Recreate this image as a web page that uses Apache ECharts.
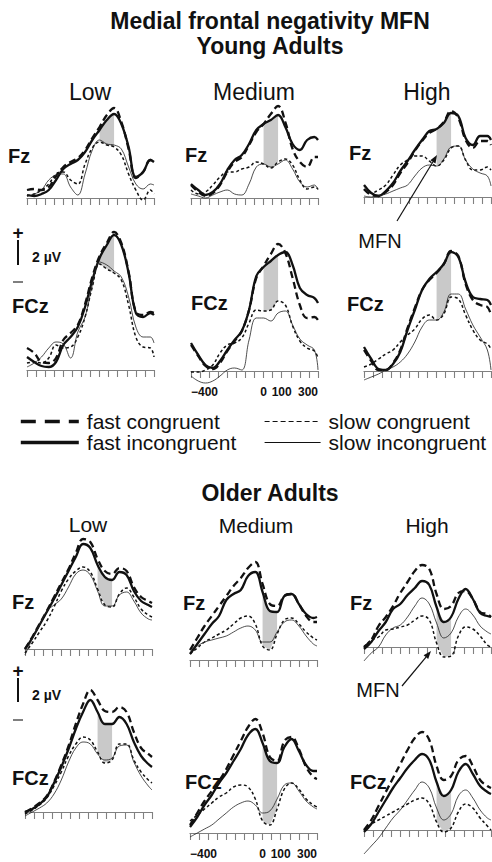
<!DOCTYPE html>
<html><head><meta charset="utf-8">
<script src="https://cdn.jsdelivr.net/npm/echarts@6/dist/echarts.min.js"></script>
<style>html,body{margin:0;padding:0;background:#fff}#c{width:492px;height:862px}</style>
</head><body><div id="c"></div>
<script>
// ---------- data (µV) ----------
const times = [-400,-360,-320,-280,-240,-200,-160,-120,-80,-40,0,40,80,120,160,200,240,280,300];
const conditions = ['fast congruent','fast incongruent','slow congruent','slow incongruent'];
const columns = ['Low','Medium','High'];
const sites = ['Fz','FCz'];
const groups = ['Young Adults','Older Adults'];
const xLabelsShown = [-400, 0, 100, 300];
const shadeIdx = [10, 11, 12]; // 0, 40, 80 ms

// Young adults, Fz
const yLowFzFC = [0.4,0.45,0.4,0.55,1.1,1.55,1.8,2.0,2.4,3.0,3.55,4.15,4.5,3.8,2.45,1.0,1.3,1.9,1.85];
const yLowFzFI = [0.15,0.1,0.2,0.4,0.9,1.45,1.7,1.9,2.3,2.9,3.4,3.9,4.2,3.7,2.55,1.05,1.3,1.9,1.8];
const yLowFzSC = [0.1,0.2,0.4,0.7,1.2,1.3,0.9,0.7,1.7,2.5,2.8,2.65,2.55,2.15,1.2,0.4,-0.1,0.4,0.2];
const yLowFzSI = [0.1,0.2,0.4,0.9,1.15,1.2,0.55,0.15,1.2,2.4,2.9,2.7,2.65,2.45,1.55,0.7,0.45,0.7,0.65];
const yMedFzFC = [0.65,0.3,0.1,0.25,0.65,1.3,1.8,2.05,2.65,3.3,3.7,4.2,4.6,3.8,2.45,1.8,1.55,2.05,2.05];
const yMedFzFI = [0.7,0.4,0.15,0.3,0.7,1.4,1.9,2.15,2.7,3.4,3.7,3.9,4.15,3.55,2.7,2.4,2.9,3.05,2.9];
const yMedFzSC = [0.4,0.2,0.3,0.65,1.05,1.3,1.3,1.45,1.55,1.8,1.7,1.5,1.8,1.95,1.65,0.9,0.45,0.55,0.45];
const yMedFzSI = [0.2,0.1,0.0,0.15,0.3,0.4,0.2,0.15,0.7,1.55,1.7,1.55,1.7,1.9,1.45,0.8,0.55,0.65,0.4];
const yHighFzFC = [0.4,0.1,0.05,0.25,0.6,1.2,1.7,2.3,2.8,3.2,3.4,3.75,4.3,3.95,2.85,2.45,2.8,2.8,2.6];
const yHighFzFI = [0.6,0.2,0.05,0.3,0.7,1.3,1.8,2.35,2.85,3.3,3.4,3.7,4.2,4.05,2.95,2.6,3.05,3.05,2.85];
const yHighFzSC = [0.35,0.2,0.35,0.6,1.1,1.6,1.85,2.05,2.05,1.8,1.55,1.85,2.45,2.55,1.85,1.35,1.35,1.5,1.35];
const yHighFzSI = [0.05,0.0,0.05,0.15,0.3,0.45,0.6,1.05,1.45,1.6,1.55,1.9,2.5,2.55,1.85,1.4,1.2,1.05,0.55];
// Young adults, FCz
const yLowFCzFC = [1.1,0.85,0.4,0.35,0.6,1.5,1.85,2.25,3.3,4.65,5.7,6.35,6.9,6.35,4.9,2.9,2.75,2.9,2.85];
const yLowFCzFI = [0.65,0.4,0.2,0.15,0.4,1.25,1.65,2.15,3.15,4.5,5.6,6.25,6.75,6.25,4.85,2.85,2.65,2.85,2.75];
const yLowFCzSC = [0.35,0.4,0.35,0.6,1.25,1.1,1.15,1.65,2.65,4.15,5.3,5.05,4.85,4.5,3.25,1.65,1.15,1.1,0.65];
const yLowFCzSI = [0.15,0.35,0.65,1.1,1.4,1.3,0.6,1.9,2.65,4.25,5.4,5.25,4.95,4.65,3.65,2.15,1.65,1.65,1.35];
const yMedFCzFC = [1.3,0.75,0.25,0.1,0.4,1.0,1.5,2.0,3.05,4.65,5.25,5.85,6.35,5.9,4.65,3.3,2.65,2.7,2.55];
const yMedFCzFI = [1.4,0.8,0.3,0.15,0.5,1.05,1.55,2.0,3.05,4.75,5.2,5.5,5.8,5.95,5.3,4.15,3.8,3.65,3.4];
const yMedFCzSC = [-0.05,-0.05,0.05,0.3,0.9,1.3,1.4,1.65,2.4,3.05,3.0,3.05,3.5,3.3,2.25,1.5,1.15,1.0,0.65];
const yMedFCzSI = [-0.25,-0.5,-0.6,-0.5,-0.25,0.05,0.15,0.05,1.55,2.65,2.65,2.5,2.9,3.0,2.3,1.6,1.3,1.05,0.05];
const yHighFCzFC = [1.05,0.5,0.05,0.05,0.4,1.05,2.15,3.15,4.05,4.55,4.9,5.35,6.0,5.75,4.35,3.55,3.3,3.2,2.8];
const yHighFCzFI = [1.2,0.6,0.1,0.05,0.35,0.95,2.05,3.05,4.05,4.6,4.95,5.35,5.95,5.7,4.45,3.7,3.6,3.55,3.3];
const yHighFCzSC = [0.2,0.35,0.6,0.85,1.05,1.45,1.8,2.1,2.6,2.8,2.55,2.85,3.7,3.6,2.8,2.05,1.55,1.35,1.1];
const yHighFCzSI = [-0.45,-0.3,-0.15,0.05,0.2,0.45,0.85,1.45,2.2,2.55,2.55,2.95,3.85,3.85,3.1,2.3,1.7,1.05,0.05];
// Older adults, Fz
const oLowFzFC = [0.0,0.6,1.25,1.9,2.6,3.3,4.0,4.8,5.5,5.35,4.5,3.9,3.75,4.05,3.9,3.1,2.6,2.4,2.3];
const oLowFzFI = [0.0,0.55,1.2,1.85,2.5,3.2,3.9,4.6,5.25,5.05,4.2,3.6,3.45,3.85,3.7,2.9,2.4,2.2,2.1];
const oLowFzSC = [-0.2,0.3,0.85,1.4,2.1,2.9,3.5,3.9,4.1,3.85,3.0,2.2,2.1,2.75,3.05,2.6,2.0,1.7,1.6];
const oLowFzSI = [-0.3,0.5,1.2,1.9,2.2,2.5,3.1,3.75,3.95,3.7,2.9,2.15,2.15,2.7,2.85,2.4,1.8,1.5,1.45];
const oMedFzFC = [0.5,1.1,1.7,2.2,2.7,3.2,3.7,4.1,4.6,4.9,3.8,2.8,2.7,3.2,3.3,2.8,2.2,1.9,1.9];
const oMedFzFI = [0.3,0.8,1.3,1.8,2.2,3.0,3.3,3.5,4.2,4.4,3.4,2.45,2.4,3.2,3.3,2.8,2.3,2.1,2.15];
const oMedFzSC = [0.3,0.6,0.9,1.1,1.3,1.5,1.8,2.1,2.2,1.8,0.7,0.5,1.3,2.0,2.1,1.8,1.4,1.1,1.0];
const oMedFzSI = [0.5,0.7,0.9,1.0,1.1,1.2,1.4,1.6,1.7,1.5,0.9,0.9,1.4,1.9,2.0,1.7,1.2,0.8,0.7];
const oHighFzFC = [0.0,0.35,1.05,1.5,2.05,2.7,3.25,3.8,4.1,3.9,2.65,1.9,2.05,2.7,2.8,2.4,1.75,1.65,1.5];
const oHighFzFI = [-0.1,0.25,0.8,1.25,1.9,2.15,2.6,2.95,3.3,3.1,2.0,1.25,1.5,2.4,2.9,2.4,1.7,1.55,1.5];
const oHighFzSC = [0.0,0.35,0.5,0.85,0.9,1.0,1.1,1.35,1.55,1.35,0.2,-0.5,-0.45,0.55,1.0,0.9,0.55,0.1,0.0];
const oHighFzSI = [-0.7,-0.3,0.0,0.6,0.95,1.1,1.5,2.05,2.45,2.15,1.2,0.45,0.7,1.5,1.9,1.6,1.05,0.75,0.65];
// Older adults, FCz
const oLowFCzFC = [0.0,0.2,0.45,0.8,1.5,2.35,3.3,4.4,5.4,6.1,5.6,5.05,5.0,5.25,5.0,4.0,3.2,2.9,2.75];
const oLowFCzFI = [0.0,0.15,0.4,0.75,1.45,2.25,3.15,4.15,5.0,5.6,5.0,4.4,4.4,4.75,4.4,3.5,2.8,2.4,2.25];
const oLowFCzSC = [-0.1,0.1,0.35,0.7,1.3,2.0,2.8,3.4,3.75,3.6,3.0,2.45,2.6,3.4,3.4,2.6,2.0,1.6,1.45];
const oLowFCzSI = [-0.2,0.0,0.2,0.45,0.9,1.6,2.5,3.2,3.5,3.4,2.9,2.6,2.7,3.3,3.35,2.5,1.8,1.3,1.1];
const oMedFCzFC = [0.4,1.0,1.6,2.1,2.6,3.2,3.9,4.6,5.3,5.7,5.0,3.8,3.6,4.6,4.8,4.2,3.3,2.8,2.7];
const oMedFCzFI = [0.3,0.8,1.4,1.9,2.5,3.0,3.6,4.2,4.9,5.2,4.5,3.6,3.5,4.3,4.7,4.1,3.4,3.1,3.1];
const oMedFCzSC = [0.6,0.9,1.2,1.5,1.8,2.0,2.3,2.4,2.3,1.7,0.6,0.4,1.2,2.2,2.5,2.2,1.7,1.4,1.3];
const oMedFCzSI = [-0.2,0.0,0.2,0.4,0.7,1.0,1.3,1.5,1.6,1.4,1.0,1.1,1.7,2.4,2.5,2.1,1.6,1.3,1.2];
const oHighFCzFC = [0.0,0.5,1.2,1.9,2.6,3.3,4.0,4.6,4.9,4.5,3.2,2.5,2.7,3.5,3.7,3.2,2.5,2.2,2.1];
const oHighFCzFI = [-0.1,0.3,0.9,1.5,2.1,2.6,3.1,3.5,3.8,3.5,2.4,1.7,2.0,2.9,3.3,2.8,2.2,1.9,1.8];
const oHighFCzSC = [0.0,0.3,0.5,0.7,0.9,1.1,1.3,1.5,1.6,1.3,0.4,-0.1,0.1,0.9,1.3,1.1,0.6,0.2,0.0];
const oHighFCzSI = [-1.2,-0.8,-0.4,0.1,0.6,1.0,1.5,2.0,2.4,2.1,1.1,0.5,0.8,1.7,2.0,1.6,1.0,0.6,0.5];

// ---------- layout ----------
const FONT = '"Liberation Sans", Arial, Helvetica, sans-serif';
const PX = 20, YMAX = 8, W = 127;
const panels = [
  {l:27,  b:198, d:[yLowFzFC,yLowFzFI,yLowFzSC,yLowFzSI]},
  {l:191, b:198, d:[yMedFzFC,yMedFzFI,yMedFzSC,yMedFzSI]},
  {l:364, b:197, d:[yHighFzFC,yHighFzFI,yHighFzSC,yHighFzSI]},
  {l:27,  b:370, d:[yLowFCzFC,yLowFCzFI,yLowFCzSC,yLowFCzSI]},
  {l:191, b:371, d:[yMedFCzFC,yMedFCzFI,yMedFCzSC,yMedFCzSI], lab:true},
  {l:364, b:371, d:[yHighFCzFC,yHighFCzFI,yHighFCzSC,yHighFCzSI]},
  {l:25,  b:649, d:[oLowFzFC,oLowFzFI,oLowFzSC,oLowFzSI]},
  {l:190, b:660, d:[oMedFzFC,oMedFzFI,oMedFzSC,oMedFzSI]},
  {l:364, b:647, d:[oHighFzFC,oHighFzFI,oHighFzSC,oHighFzSI]},
  {l:25,  b:812, d:[oLowFCzFC,oLowFCzFI,oLowFCzSC,oLowFCzSI]},
  {l:190, b:833, d:[oMedFCzFC,oMedFCzFI,oMedFCzSC,oMedFCzSI], lab:true},
  {l:364, b:830, d:[oHighFCzFC,oHighFCzFI,oHighFCzSC,oHighFCzSI]}
];
const lineStyles = [
  {color:'#111', width:2.3, type:[7,4]},
  {color:'#111', width:2.3, type:'solid'},
  {color:'#111', width:1.5, type:[3,2.5]},
  {color:'#222', width:0.8, type:'solid'}
];

const grid = [], xAxis = [], yAxis = [], series = [];
panels.forEach((p, i) => {
  grid.push({left:p.l, width:W, top:p.b - YMAX*PX, height:YMAX*PX});
  xAxis.push({
    gridIndex:i, type:'value', min:-400, max:300, interval:50, position:'bottom',
    axisLine:{show:true, onZero:false, lineStyle:{color:'#808080', width:1.2}},
    axisTick:{show:true, inside:false, length:7, lineStyle:{color:'#808080', width:1.1}},
    splitLine:{show:false},
    axisLabel:{show:!!p.lab, margin:15, fontSize:12, fontWeight:'bold', fontFamily:FONT, color:'#111',
      alignMinLabel:'left', alignMaxLabel:'right', showMinLabel:true, showMaxLabel:true,
      formatter:v => xLabelsShown.includes(v) ? (v < 0 ? '\u2212' + Math.abs(v) : String(v)) : ''}
  });
  yAxis.push({gridIndex:i, type:'value', min:0, max:YMAX, show:false});
  // MFN shading between fast incongruent and slow congruent, 0–80 ms
  series.push({type:'custom', xAxisIndex:i, yAxisIndex:i, silent:true, clip:false, z:1,
    data:shadeIdx.map(k => [times[k], p.d[1][k], p.d[2][k]]),
    encode:{x:0, y:[1,2]},
    renderItem:(params, api) => {
      if (params.dataIndex !== 0) return null;
      const top = shadeIdx.map(k => api.coord([times[k], p.d[1][k]]));
      const bot = shadeIdx.slice().reverse().map(k => api.coord([times[k], p.d[2][k]]));
      return {type:'polygon', shape:{points:top.concat(bot), smooth:0}, style:{fill:'#c9c9c9', stroke:null}};
    }});
  p.d.forEach((vals, j) => {
    const s = {name:conditions[j], type:'line', xAxisIndex:i, yAxisIndex:i, silent:true, clip:false,
      symbol:'none', showSymbol:false, smooth:0.4, lineStyle:lineStyles[j], itemStyle:{color:'#111'}, z:2,
      data:times.map((t, k) => [t, vals[k]])};
    if (j === 1) {
      s.markLine = {silent:true, symbol:['none','arrow'], symbolSize:[8,9], label:{show:false},
        lineStyle:{color:'#000', width:1.7, type:'solid'}, animation:false,
        data:[[{coord:[0,-0.45]},{coord:[0,0.8]}]]};
    }
    series.push(s);
  });
});

function txt(t, x, y, size, weight, align) {
  return {type:'text', x:x, y:y, silent:true, z:10,
    style:{text:t, fontSize:size, fontWeight:weight || 'normal', fontFamily:FONT, fill:'#111',
      align:align || 'center', verticalAlign:'middle', textAlign:align || 'center', textVerticalAlign:'middle'}};
}
function ln(x1, y1, x2, y2, w, c) {
  return {type:'line', silent:true, z:10, shape:{x1:x1,y1:y1,x2:x2,y2:y2}, style:{stroke:c || '#111', lineWidth:w}};
}
function poly(pts) {
  return {type:'polygon', silent:true, z:10, shape:{points:pts}, style:{fill:'#111'}};
}

const graphic = [
  txt('Medial frontal negativity MFN', 270, 21, 23, 'bold'),
  txt(groups[0], 270, 46, 23, 'bold'),
  txt(columns[0], 90, 92, 23), txt(columns[1], 254, 92, 23), txt(columns[2], 427, 92, 23),
  txt(sites[0], 8, 156, 20, 'bold', 'left'), txt(sites[0], 185, 155, 20, 'bold', 'left'), txt(sites[0], 349, 153, 20, 'bold', 'left'),
  txt(sites[1], 12, 306, 20, 'bold', 'left'), txt(sites[1], 191, 303, 20, 'bold', 'left'), txt(sites[1], 347, 304, 20, 'bold', 'left'),
  // scale bar (young)
  txt('+', 18, 232, 19, 'bold'), ln(18, 240, 18, 265, 2), txt('2 µV', 32, 257, 14, 'bold', 'left'), ln(13, 282, 23, 282, 1.5, '#555'),
  // MFN annotation (young)
  txt('MFN', 380, 241, 20), ln(397, 221, 433, 161.8, 1.2), poly([[437,155],[435.5,163.4],[430.3,160.2]]),
  // older
  txt(groups[1], 270, 493, 23, 'bold'),
  txt(columns[0], 88, 524, 21), txt(columns[1], 256, 525, 21), txt(columns[2], 427, 525, 21),
  txt(sites[0], 12, 602, 20, 'bold', 'left'), txt(sites[0], 183, 603, 20, 'bold', 'left'), txt(sites[0], 350, 603, 20, 'bold', 'left'),
  txt(sites[1], 12, 778, 20, 'bold', 'left'), txt(sites[1], 185, 782, 20, 'bold', 'left'), txt(sites[1], 350, 782, 20, 'bold', 'left'),
  txt('+', 18, 670, 19, 'bold'), ln(18, 678, 18, 702, 2), txt('2 µV', 32, 695, 14, 'bold', 'left'), ln(13, 720, 23, 720, 1.5, '#555'),
  txt('MFN', 378, 690, 20), ln(402, 686, 426, 657.2, 1.2), poly([[431,651],[428.2,659.1],[423.6,655.3]])
];

const legendText = {fontSize:21, fontFamily:FONT, color:'#111', lineHeight:20, padding:[0,0,0,3]};
const legend = [
  {left:14, top:406, orient:'vertical', itemWidth:58, itemHeight:12, itemGap:0, selectedMode:false,
   textStyle:legendText, itemStyle:{opacity:0, borderWidth:0},
   data:[{name:conditions[0], lineStyle:{type:[15,9], width:3.6, color:'#111'}},
         {name:conditions[1], lineStyle:{type:'solid', width:3.6, color:'#111'}}]},
  {left:259, top:406, orient:'vertical', itemWidth:56, itemHeight:12, itemGap:0, selectedMode:false,
   textStyle:legendText, itemStyle:{opacity:0, borderWidth:0},
   data:[{name:conditions[2], lineStyle:{type:[5,3], width:1.2, color:'#111'}},
         {name:conditions[3], lineStyle:{type:'solid', width:1.2, color:'#111'}}]}
];

const chart = echarts.init(document.getElementById('c'), null, {renderer:'svg'});
chart.setOption({animation:false, backgroundColor:'#fff', grid, xAxis, yAxis, series, legend, graphic});
</script>
</body></html>
